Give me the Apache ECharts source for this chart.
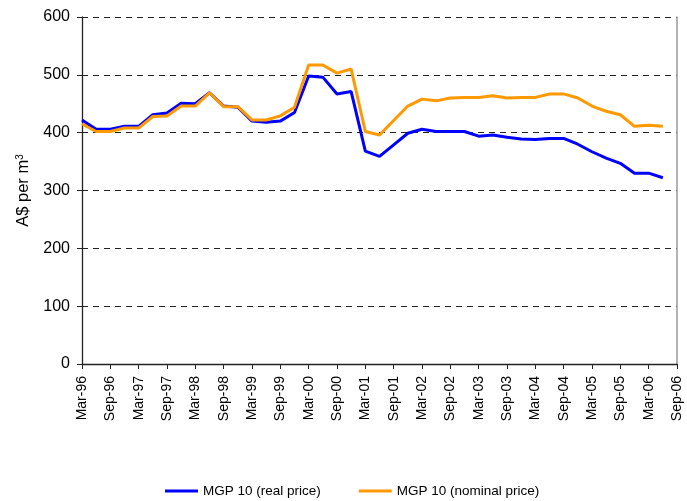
<!DOCTYPE html>
<html>
<head>
<meta charset="utf-8">
<script src="https://cdn.jsdelivr.net/npm/echarts@6/dist/echarts.min.js"></script>
<style>
html,body{margin:0;padding:0;background:#fff;}
#main{width:687px;height:501px;}
</style>
</head>
<body>
<div id="main"></div>
<script>
// quarterly categories, label shown every 6 months
var quarters = ['Mar-96','Jun-96','Sep-96','Dec-96','Mar-97','Jun-97','Sep-97','Dec-97',
	'Mar-98','Jun-98','Sep-98','Dec-98','Mar-99','Jun-99','Sep-99','Dec-99',
	'Mar-00','Jun-00','Sep-00','Dec-00','Mar-01','Jun-01','Sep-01','Dec-01',
	'Mar-02','Jun-02','Sep-02','Dec-02','Mar-03','Jun-03','Sep-03','Dec-03',
	'Mar-04','Jun-04','Sep-04','Dec-04','Mar-05','Jun-05','Sep-05','Dec-05',
	'Mar-06','Jun-06','Sep-06'];

// MGP 10 real price (A$ per m3)
var realPrice = [422,406,406,411,411,431,434,451,450,469,446,444,420,418,420,435,
	498,496,467,471,368,359,379,399,406,402,402,402,394,396,392,389,
	388,390,390,380,367,356,347,330,330,322,null];

// MGP 10 nominal price (A$ per m3)
var nominalPrice = [415,402,402,408,408,428,429,446,446,469,445,445,422,422,429,444,
	517,517,503,510,402,396,421,446,458,455,460,461,461,464,460,461,
	461,467,467,460,446,437,431,411,413,411,null];

var seriesNames = ['MGP 10 (real price)', 'MGP 10 (nominal price)'];

var fontName = 'Liberation Sans, Arial, sans-serif';
var myChart = echarts.init(document.getElementById('main'));

var option = {
	animation: false,
	backgroundColor: '#fff',
	grid: {left: 82, right: 10, top: 17, bottom: 137, containLabel: false},
	legend: {
		left: 160,
		top: 479,
		icon: 'rect',
		itemWidth: 33,
		itemHeight: 3,
		itemGap: 38,
		textStyle: {fontFamily: fontName, fontSize: 13.5, color: '#000'},
		data: seriesNames
	},
	xAxis: {
		type: 'category',
		boundaryGap: false,
		data: quarters,
		axisLine: {lineStyle: {color: '#222', width: 1.3}},
		axisTick: {show: true, interval: 1, length: 5, lineStyle: {color: '#222'}},
		axisLabel: {
			interval: 1,
			rotate: 90,
			margin: 12,
			fontFamily: fontName,
			fontSize: 14,
			color: '#000'
		},
		splitLine: {show: false}
	},
	yAxis: [{
		type: 'value',
		min: 0,
		max: 600,
		interval: 100,
		name: '{a|A$ per m}{s|3}',
		nameLocation: 'middle',
		nameRotate: 90,
		nameGap: 49,
		nameTextStyle: {
			rich: {
				a: {fontFamily: fontName, fontSize: 16.5, color: '#000'},
				s: {fontFamily: fontName, fontSize: 10, color: '#000', verticalAlign: 'top'}
			}
		},
		axisLine: {show: true, lineStyle: {color: '#222', width: 1.3}},
		axisTick: {show: true, length: 5, lineStyle: {color: '#222'}},
		axisLabel: {fontFamily: fontName, fontSize: 16, color: '#000', margin: 12},
		splitLine: {show: true, lineStyle: {color: '#222', type: [6, 5], width: 1}}
	}, {
		// right border of plot area
		type: 'value',
		position: 'right',
		min: 0,
		max: 600,
		interval: 100,
		axisLine: {show: true, lineStyle: {color: '#999', width: 1.5}},
		axisTick: {show: false},
		axisLabel: {show: false},
		splitLine: {show: false}
	}],
	series: [{
		name: seriesNames[0],
		type: 'line',
		data: realPrice,
		symbol: 'none',
		color: '#0000ff',
		lineStyle: {color: '#0000ff', width: 3},
		z: 3
	}, {
		name: seriesNames[1],
		type: 'line',
		data: nominalPrice,
		symbol: 'none',
		color: '#ff9900',
		lineStyle: {color: '#ff9900', width: 3},
		z: 4
	}]
};

myChart.setOption(option);
</script>
</body>
</html>
